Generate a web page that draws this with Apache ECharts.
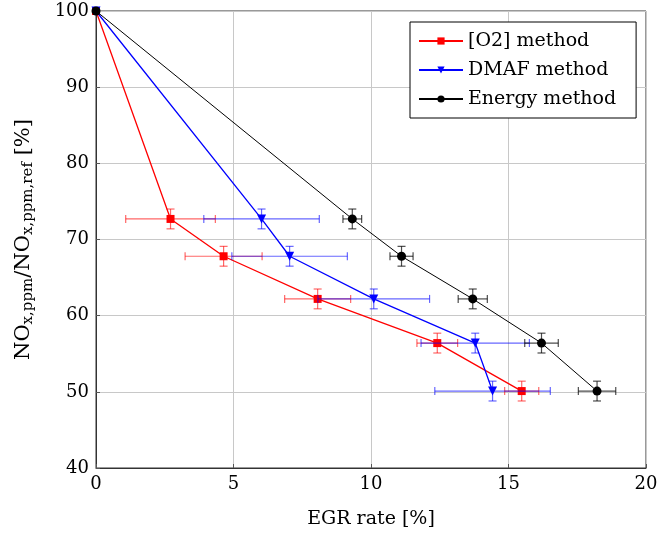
<!DOCTYPE html>
<html>
<head>
<meta charset="utf-8">
<script src="https://cdn.jsdelivr.net/npm/echarts@6/dist/echarts.min.js"></script>
<style>
  html, body { margin: 0; padding: 0; background: #fff; }
  #chart { width: 658px; height: 533px; }
</style>
</head>
<body>
<div id="chart"></div>
<script>
// NOx reduction vs. EGR rate for three EGR estimation methods
const seriesNames = ['[O2] method', 'DMAF method', 'Energy method'];

const noxRatio = [100, 72.7, 67.8, 62.2, 56.4, 50.1];   // NOx,ppm / NOx,ppm,ref [%]
const noxErr   = [0, 1.3, 1.3, 1.3, 1.3, 1.3];

const egrO2     = [0, 2.71, 4.64, 8.06, 12.41, 15.48];
const egrErrO2  = [0, 1.63, 1.40, 1.20, 0.74, 0.62];

const egrDmaf    = [0, 6.02, 7.04, 10.10, 13.79, 14.42];
const egrErrDmaf = [0, 2.10, 2.10, 2.03, 1.97, 2.10];

const egrEnergy    = [0, 9.32, 11.11, 13.70, 16.20, 18.22];
const egrErrEnergy = [0, 0.34, 0.42, 0.53, 0.61, 0.68];

const xTicks = [0, 5, 10, 15, 20];
const yTicks = [40, 50, 60, 70, 80, 90, 100];

const serif = 'DejaVu Serif';
const colors = ['#ff0000', '#0000ff', '#000000'];
const errColors = ['rgba(255,0,0,0.6)', 'rgba(0,0,255,0.6)', 'rgba(0,0,0,0.7)'];

function points(xs) { return xs.map((x, i) => [x, noxRatio[i]]); }
function errPoints(xs, exs) { return xs.map((x, i) => [x, noxRatio[i], exs[i], noxErr[i]]); }

function errorBars(color) {
  return function (params, api) {
    const x = api.value(0), y = api.value(1), ex = api.value(2), ey = api.value(3);
    const children = [];
    const style = { stroke: color, lineWidth: 1.2 };
    const cap = 4;
    if (ex > 0) {
      const a = api.coord([x - ex, y]), b = api.coord([x + ex, y]);
      children.push({ type: 'line', shape: { x1: a[0], y1: a[1], x2: b[0], y2: b[1] }, style });
      children.push({ type: 'line', shape: { x1: a[0], y1: a[1] - cap, x2: a[0], y2: a[1] + cap }, style });
      children.push({ type: 'line', shape: { x1: b[0], y1: b[1] - cap, x2: b[0], y2: b[1] + cap }, style });
    }
    if (ey > 0) {
      const a = api.coord([x, y - ey]), b = api.coord([x, y + ey]);
      children.push({ type: 'line', shape: { x1: a[0], y1: a[1], x2: b[0], y2: b[1] }, style });
      children.push({ type: 'line', shape: { x1: a[0] - cap, y1: a[1], x2: a[0] + cap, y2: a[1] }, style });
      children.push({ type: 'line', shape: { x1: b[0] - cap, y1: b[1], x2: b[0] + cap, y2: b[1] }, style });
    }
    return { type: 'group', children };
  };
}

const methods = [
  { xs: egrO2, exs: egrErrO2, symbol: 'rect', size: 8, width: 1.3 },
  { xs: egrDmaf, exs: egrErrDmaf, symbol: 'triangle', size: 9, width: 1.3, rotate: 180 },
  { xs: egrEnergy, exs: egrErrEnergy, symbol: 'circle', size: 9, width: 1 }
];

const series = [];
methods.forEach((m, k) => {
  series.push({
    name: seriesNames[k],
    type: 'line',
    data: points(m.xs),
    symbol: m.symbol,
    symbolSize: m.size,
    symbolRotate: m.rotate || 0,
    showAllSymbol: true,
    clip: false,
    z: 3 + k * 2,
    lineStyle: { color: colors[k], width: m.width },
    itemStyle: { color: colors[k] },
    animation: false
  });
  series.push({
    name: seriesNames[k],
    type: 'custom',
    data: errPoints(m.xs, m.exs),
    renderItem: errorBars(errColors[k]),
    z: 2 + k * 2,
    clip: false,
    animation: false
  });
});

const chart = echarts.init(document.getElementById('chart'), null, { renderer: 'canvas' });
chart.setOption({
  backgroundColor: '#fff',
  animation: false,
  textStyle: { fontFamily: serif },
  grid: {
    left: 96, right: 12, top: 11, bottom: 65,
    containLabel: false, outerBoundsMode: 'none',
    show: true, borderColor: '#333', borderWidth: 1
  },
  legend: {
    data: seriesNames,
    orient: 'vertical',
    left: 410, top: 22,
    padding: [9, 20, 9, 8],
    itemGap: 9,
    itemWidth: 44, itemHeight: 9,
    backgroundColor: '#fff',
    borderColor: '#000', borderWidth: 1,
    textStyle: { fontFamily: serif, fontSize: 19, color: '#000', lineHeight: 20 }
  },
  xAxis: {
    type: 'value', min: xTicks[0], max: xTicks[xTicks.length - 1], interval: 5,
    name: 'EGR rate [%]', nameLocation: 'middle', nameGap: 42,
    nameTextStyle: { fontFamily: serif, fontSize: 19, color: '#000' },
    axisLine: { lineStyle: { color: '#333', width: 1 } },
    axisTick: { inside: true, length: 4, lineStyle: { color: '#555' } },
    axisLabel: { fontFamily: serif, fontSize: 18, color: '#000', margin: 7 },
    splitLine: { lineStyle: { color: '#c8c8c8', width: 1 } }
  },
  yAxis: {
    type: 'value', min: yTicks[0], max: yTicks[yTicks.length - 1], interval: 10,
    name: 'NO{sub|x,ppm}/NO{sub|x,ppm,ref} [%]',
    nameLocation: 'middle', nameGap: 60, nameRotate: 90,
    nameTextStyle: {
      fontFamily: serif, fontSize: 21, color: '#000', lineHeight: 24,
      rich: { sub: { fontFamily: serif, fontSize: 15, color: '#000', padding: [8, 0, 0, 0] } }
    },
    axisLine: { show: true, lineStyle: { color: '#333', width: 1 } },
    axisTick: { show: true, inside: true, length: 4, lineStyle: { color: '#555' } },
    axisLabel: { fontFamily: serif, fontSize: 18, color: '#000', margin: 7 },
    splitLine: { lineStyle: { color: '#c8c8c8', width: 1 } }
  },
  series
});
</script>
</body>
</html>
